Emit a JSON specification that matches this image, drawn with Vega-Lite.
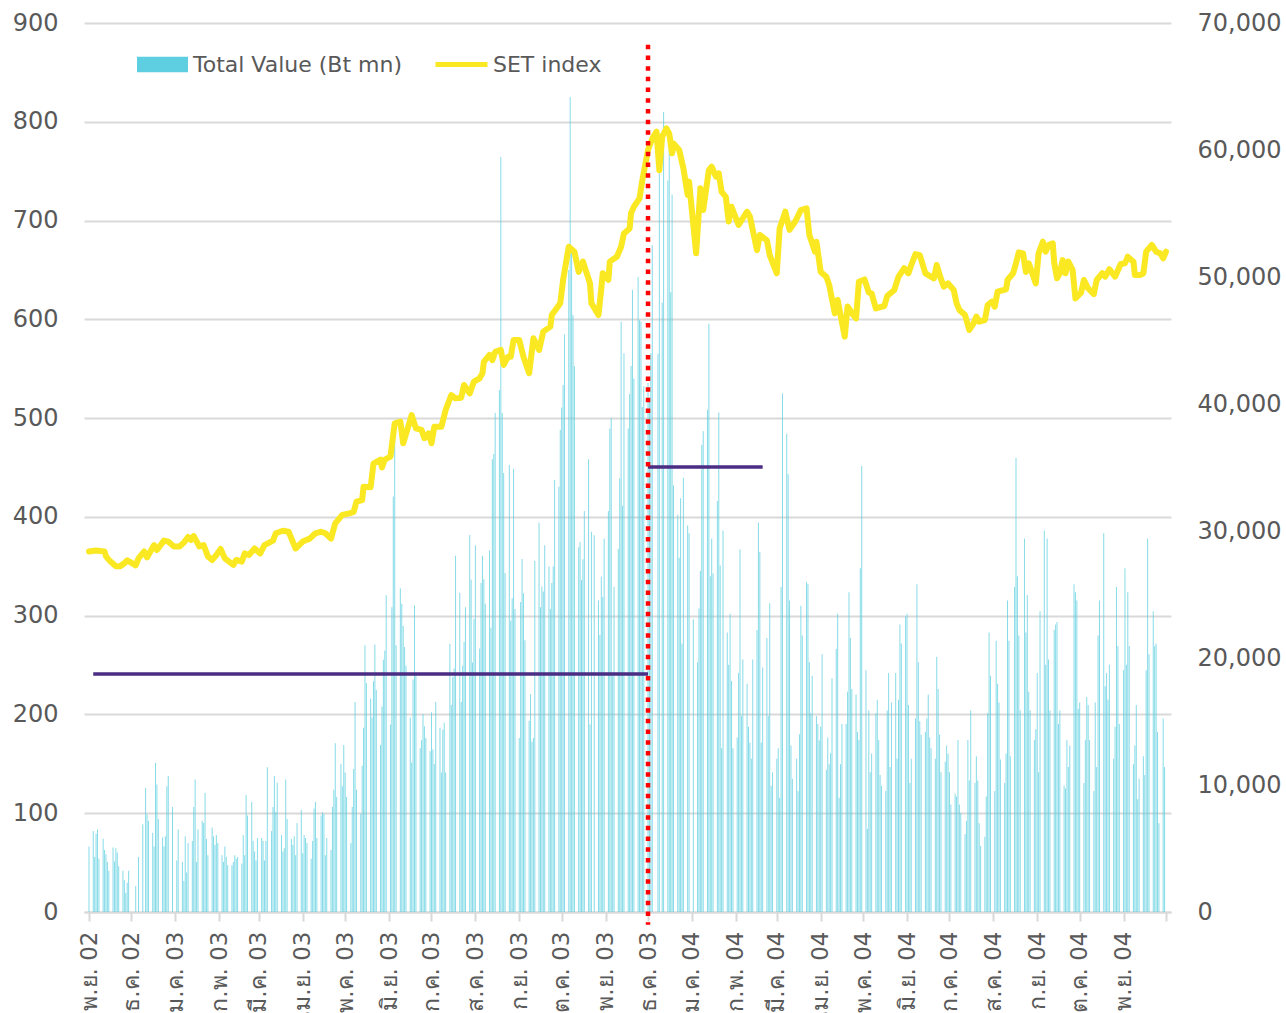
{
"$schema":"https://vega.github.io/schema/vega-lite/v6.json",
"width":1087,"height":889,
"autosize":{"type":"none"},
"padding":{"left":84,"top":23,"right":115,"bottom":101},
"background":"white",
"config":{"view":{"stroke":null},"font":"DejaVu Sans",
"axisX":{"tickCount":{"interval":"month","step":1},"labelAngle":-90,"labelExpr":"(utcyear(datum.value)==2004 && utcmonth(datum.value)==11) ? '' : ['ม.ค.','ก.พ.','มี.ค.','เม.ย.','พ.ค.','มิ.ย.','ก.ค.','ส.ค.','ก.ย.','ต.ค.','พ.ย.','ธ.ค.'][utcmonth(datum.value)] + ' ' + utcFormat(datum.value, '%y')","domainColor":"#D9D9D9","domainWidth":2,"tickColor":"#D9D9D9","tickWidth":2,"tickSize":9,"labelPadding":10,"labelFontSize":23,"labelColor":"#595959","grid":false,"title":null,"labelOverlap":false,"labelBound":false,"labelFlush":false}},
"datasets":{
"bars":[
{"d":"2002-11-01","v":5150},{"d":"2002-11-04","v":6380},{"d":"2002-11-05","v":4330},{"d":"2002-11-06","v":6160},{"d":"2002-11-07","v":6500},{"d":"2002-11-08","v":4200},{"d":"2002-11-11","v":5770},{"d":"2002-11-12","v":4880},{"d":"2002-11-13","v":4530},{"d":"2002-11-14","v":3940},{"d":"2002-11-15","v":3250},{"d":"2002-11-18","v":5070},{"d":"2002-11-19","v":3980},{"d":"2002-11-20","v":5020},{"d":"2002-11-21","v":4690},{"d":"2002-11-22","v":3600},{"d":"2002-11-25","v":3250},{"d":"2002-11-26","v":2500},{"d":"2002-11-27","v":1500},{"d":"2002-11-28","v":2300},{"d":"2002-11-29","v":3250},
{"d":"2002-12-04","v":2050},{"d":"2002-12-06","v":4330},{"d":"2002-12-09","v":6910},{"d":"2002-12-11","v":9760},{"d":"2002-12-12","v":7670},{"d":"2002-12-13","v":7180},{"d":"2002-12-16","v":6240},{"d":"2002-12-17","v":5150},{"d":"2002-12-18","v":11730},{"d":"2002-12-19","v":10030},{"d":"2002-12-20","v":7320},{"d":"2002-12-23","v":5880},{"d":"2002-12-24","v":5150},{"d":"2002-12-25","v":5960},{"d":"2002-12-26","v":9900},{"d":"2002-12-27","v":10710},{"d":"2002-12-30","v":8270},
{"d":"2003-01-02","v":4060},{"d":"2003-01-03","v":6500},{"d":"2003-01-06","v":3940},{"d":"2003-01-07","v":2440},{"d":"2003-01-08","v":5960},{"d":"2003-01-09","v":3120},{"d":"2003-01-10","v":5430},{"d":"2003-01-13","v":5590},{"d":"2003-01-14","v":8270},{"d":"2003-01-15","v":10440},{"d":"2003-01-16","v":3940},{"d":"2003-01-17","v":6500},{"d":"2003-01-20","v":7180},{"d":"2003-01-21","v":7000},{"d":"2003-01-22","v":9370},{"d":"2003-01-23","v":5750},{"d":"2003-01-24","v":4460},{"d":"2003-01-27","v":6650},{"d":"2003-01-28","v":5960},{"d":"2003-01-29","v":5270},{"d":"2003-01-30","v":6060},{"d":"2003-01-31","v":5430},
{"d":"2003-02-03","v":4460},{"d":"2003-02-04","v":3940},{"d":"2003-02-05","v":5150},{"d":"2003-02-06","v":4330},{"d":"2003-02-07","v":3690},{"d":"2003-02-10","v":3690},{"d":"2003-02-11","v":3940},{"d":"2003-02-12","v":4460},{"d":"2003-02-13","v":4200},{"d":"2003-02-14","v":4330},{"d":"2003-02-17","v":3810},{"d":"2003-02-18","v":6060},{"d":"2003-02-19","v":4460},{"d":"2003-02-20","v":9210},{"d":"2003-02-21","v":7590},{"d":"2003-02-24","v":8660},{"d":"2003-02-25","v":5590},{"d":"2003-02-26","v":4770},{"d":"2003-02-27","v":4060},{"d":"2003-02-28","v":5830},
{"d":"2003-03-03","v":5830},{"d":"2003-03-04","v":5590},{"d":"2003-03-05","v":4060},{"d":"2003-03-06","v":5590},{"d":"2003-03-07","v":11390},{"d":"2003-03-10","v":6380},{"d":"2003-03-11","v":8270},{"d":"2003-03-12","v":10710},{"d":"2003-03-13","v":7870},{"d":"2003-03-14","v":10170},{"d":"2003-03-17","v":6060},{"d":"2003-03-18","v":4770},{"d":"2003-03-19","v":5020},{"d":"2003-03-20","v":10440},{"d":"2003-03-21","v":7320},{"d":"2003-03-24","v":5750},{"d":"2003-03-25","v":5270},{"d":"2003-03-26","v":5960},{"d":"2003-03-27","v":4460},{"d":"2003-03-28","v":7000},{"d":"2003-03-31","v":8030},
{"d":"2003-04-01","v":4620},{"d":"2003-04-02","v":6060},{"d":"2003-04-03","v":5830},{"d":"2003-04-04","v":5430},{"d":"2003-04-07","v":4200},{"d":"2003-04-08","v":5590},{"d":"2003-04-09","v":8140},{"d":"2003-04-10","v":8660},{"d":"2003-04-11","v":5830},{"d":"2003-04-14","v":7590},{"d":"2003-04-15","v":7870},{"d":"2003-04-16","v":7720},{"d":"2003-04-17","v":4460},{"d":"2003-04-18","v":5830},{"d":"2003-04-21","v":4880},{"d":"2003-04-22","v":8270},{"d":"2003-04-23","v":9620},{"d":"2003-04-24","v":13280},{"d":"2003-04-25","v":9050},{"d":"2003-04-28","v":11650},{"d":"2003-04-29","v":9900},{"d":"2003-04-30","v":13150},
{"d":"2003-05-01","v":10980},{"d":"2003-05-02","v":9050},{"d":"2003-05-05","v":5430},{"d":"2003-05-06","v":8270},{"d":"2003-05-07","v":11260},{"d":"2003-05-08","v":16540},{"d":"2003-05-09","v":9620},{"d":"2003-05-12","v":7720},{"d":"2003-05-13","v":11520},{"d":"2003-05-14","v":14500},{"d":"2003-05-15","v":21000},{"d":"2003-05-16","v":18030},{"d":"2003-05-19","v":16810},{"d":"2003-05-20","v":15320},{"d":"2003-05-21","v":18170},{"d":"2003-05-22","v":21060},{"d":"2003-05-23","v":17490},{"d":"2003-05-26","v":13150},{"d":"2003-05-27","v":16190},{"d":"2003-05-28","v":19870},{"d":"2003-05-29","v":20600},{"d":"2003-05-30","v":24940},
{"d":"2003-06-02","v":14760},{"d":"2003-06-03","v":23990},{"d":"2003-06-04","v":32720},{"d":"2003-06-05","v":37500},{"d":"2003-06-06","v":21000},{"d":"2003-06-09","v":25490},{"d":"2003-06-10","v":24270},{"d":"2003-06-11","v":22520},{"d":"2003-06-12","v":20870},{"d":"2003-06-13","v":19380},{"d":"2003-06-16","v":15320},{"d":"2003-06-17","v":11780},{"d":"2003-06-18","v":18300},{"d":"2003-06-19","v":24130},{"d":"2003-06-20","v":18630},{"d":"2003-06-23","v":12900},{"d":"2003-06-24","v":13550},{"d":"2003-06-25","v":15590},{"d":"2003-06-26","v":14630},{"d":"2003-06-27","v":13700},{"d":"2003-06-30","v":12660},
{"d":"2003-07-01","v":15720},{"d":"2003-07-02","v":12790},{"d":"2003-07-03","v":11650},{"d":"2003-07-04","v":16540},{"d":"2003-07-07","v":14500},{"d":"2003-07-08","v":10980},{"d":"2003-07-09","v":14370},{"d":"2003-07-10","v":14900},{"d":"2003-07-11","v":10980},{"d":"2003-07-14","v":21130},{"d":"2003-07-15","v":16290},{"d":"2003-07-16","v":18510},{"d":"2003-07-17","v":19170},{"d":"2003-07-18","v":28060},{"d":"2003-07-21","v":25130},{"d":"2003-07-22","v":16540},{"d":"2003-07-23","v":19380},{"d":"2003-07-24","v":21260},{"d":"2003-07-25","v":23990},{"d":"2003-07-28","v":29680},{"d":"2003-07-29","v":26160},{"d":"2003-07-30","v":19640},{"d":"2003-07-31","v":23070},
{"d":"2003-08-01","v":28870},{"d":"2003-08-04","v":20740},{"d":"2003-08-05","v":25900},{"d":"2003-08-06","v":28060},{"d":"2003-08-07","v":26200},{"d":"2003-08-08","v":24270},{"d":"2003-08-11","v":28460},{"d":"2003-08-12","v":22390},{"d":"2003-08-13","v":35650},{"d":"2003-08-14","v":36060},{"d":"2003-08-15","v":39300},{"d":"2003-08-18","v":41100},{"d":"2003-08-19","v":59450},{"d":"2003-08-20","v":39300},{"d":"2003-08-21","v":34570},{"d":"2003-08-22","v":26700},{"d":"2003-08-25","v":35200},{"d":"2003-08-26","v":22930},{"d":"2003-08-27","v":24700},{"d":"2003-08-28","v":34900},{"d":"2003-08-29","v":23860},
{"d":"2003-09-01","v":13700},{"d":"2003-09-02","v":24400},{"d":"2003-09-03","v":27800},{"d":"2003-09-04","v":25100},{"d":"2003-09-05","v":21400},{"d":"2003-09-08","v":15060},{"d":"2003-09-09","v":17170},{"d":"2003-09-10","v":13410},{"d":"2003-09-11","v":13700},{"d":"2003-09-12","v":27650},{"d":"2003-09-15","v":30640},{"d":"2003-09-16","v":23990},{"d":"2003-09-17","v":25630},{"d":"2003-09-18","v":25230},{"d":"2003-09-19","v":28870},{"d":"2003-09-22","v":27200},{"d":"2003-09-23","v":23860},{"d":"2003-09-24","v":25900},{"d":"2003-09-25","v":27200},{"d":"2003-09-26","v":34020},{"d":"2003-09-29","v":33480},{"d":"2003-09-30","v":37960},
{"d":"2003-10-01","v":39720},{"d":"2003-10-02","v":41500},{"d":"2003-10-03","v":45500},{"d":"2003-10-06","v":50550},{"d":"2003-10-07","v":64170},{"d":"2003-10-08","v":52000},{"d":"2003-10-09","v":47000},{"d":"2003-10-10","v":43000},{"d":"2003-10-13","v":28730},{"d":"2003-10-14","v":29130},{"d":"2003-10-15","v":26150},{"d":"2003-10-16","v":27780},{"d":"2003-10-17","v":31570},{"d":"2003-10-20","v":35640},{"d":"2003-10-21","v":14770},{"d":"2003-10-22","v":29950},{"d":"2003-10-24","v":29670},{"d":"2003-10-27","v":24530},{"d":"2003-10-28","v":21820},{"d":"2003-10-29","v":26420},{"d":"2003-10-30","v":24800},{"d":"2003-10-31","v":29400},
{"d":"2003-11-03","v":31570},{"d":"2003-11-04","v":38080},{"d":"2003-11-05","v":38900},{"d":"2003-11-06","v":18830},{"d":"2003-11-07","v":25610},{"d":"2003-11-10","v":28590},{"d":"2003-11-11","v":34150},{"d":"2003-11-12","v":46480},{"d":"2003-11-13","v":31980},{"d":"2003-11-14","v":44000},{"d":"2003-11-17","v":38080},{"d":"2003-11-18","v":40790},{"d":"2003-11-19","v":43000},{"d":"2003-11-20","v":49000},{"d":"2003-11-21","v":42000},{"d":"2003-11-24","v":50000},{"d":"2003-11-25","v":46600},{"d":"2003-11-26","v":46500},{"d":"2003-11-27","v":39760},{"d":"2003-11-28","v":41400},
{"d":"2003-12-01","v":41650},{"d":"2003-12-02","v":40500},{"d":"2003-12-03","v":44000},{"d":"2003-12-04","v":52500},{"d":"2003-12-08","v":43950},{"d":"2003-12-09","v":58350},{"d":"2003-12-11","v":47970},{"d":"2003-12-12","v":63000},{"d":"2003-12-15","v":57600},{"d":"2003-12-16","v":60230},{"d":"2003-12-17","v":48800},{"d":"2003-12-18","v":56500},{"d":"2003-12-19","v":33580},{"d":"2003-12-22","v":31280},{"d":"2003-12-23","v":27900},{"d":"2003-12-24","v":32570},{"d":"2003-12-25","v":21130},{"d":"2003-12-26","v":34200},{"d":"2003-12-29","v":30430},{"d":"2003-12-30","v":29820},
{"d":"2004-01-02","v":23050},{"d":"2004-01-05","v":19670},{"d":"2004-01-06","v":23900},{"d":"2004-01-07","v":26860},{"d":"2004-01-08","v":36800},{"d":"2004-01-09","v":37860},{"d":"2004-01-12","v":39550},{"d":"2004-01-13","v":46320},{"d":"2004-01-14","v":26440},{"d":"2004-01-15","v":29400},{"d":"2004-01-16","v":26650},{"d":"2004-01-19","v":32360},{"d":"2004-01-20","v":39340},{"d":"2004-01-21","v":27280},{"d":"2004-01-22","v":12900},{"d":"2004-01-23","v":30030},{"d":"2004-01-26","v":22000},{"d":"2004-01-27","v":19460},{"d":"2004-01-28","v":23480},{"d":"2004-01-29","v":18190},{"d":"2004-01-30","v":12900},
{"d":"2004-02-02","v":13750},{"d":"2004-02-03","v":18820},{"d":"2004-02-04","v":28550},{"d":"2004-02-05","v":15440},{"d":"2004-02-06","v":19880},{"d":"2004-02-09","v":17980},{"d":"2004-02-10","v":14590},{"d":"2004-02-11","v":13320},{"d":"2004-02-12","v":12060},{"d":"2004-02-13","v":19880},{"d":"2004-02-16","v":22210},{"d":"2004-02-17","v":30670},{"d":"2004-02-18","v":28340},{"d":"2004-02-19","v":13320},{"d":"2004-02-20","v":19250},{"d":"2004-02-23","v":21570},{"d":"2004-02-24","v":15440},{"d":"2004-02-25","v":24320},{"d":"2004-02-26","v":9940},{"d":"2004-02-27","v":11000},
{"d":"2004-03-01","v":12060},{"d":"2004-03-02","v":12900},{"d":"2004-03-03","v":9000},{"d":"2004-03-04","v":25590},{"d":"2004-03-05","v":40820},{"d":"2004-03-08","v":37650},{"d":"2004-03-09","v":34470},{"d":"2004-03-10","v":24530},{"d":"2004-03-11","v":13110},{"d":"2004-03-12","v":10500},{"d":"2004-03-15","v":12060},{"d":"2004-03-16","v":9500},{"d":"2004-03-17","v":14000},{"d":"2004-03-18","v":24110},{"d":"2004-03-19","v":21780},{"d":"2004-03-22","v":26010},{"d":"2004-03-23","v":25800},{"d":"2004-03-24","v":19670},{"d":"2004-03-25","v":15650},{"d":"2004-03-26","v":18610},{"d":"2004-03-29","v":15440},{"d":"2004-03-30","v":14800},{"d":"2004-03-31","v":13500},
{"d":"2004-04-01","v":14590},{"d":"2004-04-02","v":20300},{"d":"2004-04-05","v":11210},{"d":"2004-04-06","v":13750},{"d":"2004-04-07","v":11630},{"d":"2004-04-08","v":12500},{"d":"2004-04-09","v":18400},{"d":"2004-04-12","v":20730},{"d":"2004-04-13","v":23480},{"d":"2004-04-14","v":9000},{"d":"2004-04-15","v":11630},{"d":"2004-04-16","v":14800},{"d":"2004-04-19","v":14800},{"d":"2004-04-20","v":17340},{"d":"2004-04-21","v":25170},{"d":"2004-04-22","v":21570},{"d":"2004-04-23","v":17550},{"d":"2004-04-26","v":17130},{"d":"2004-04-27","v":14170},{"d":"2004-04-28","v":13540},{"d":"2004-04-29","v":27070},{"d":"2004-04-30","v":35110},
{"d":"2004-05-03","v":19040},{"d":"2004-05-04","v":6560},{"d":"2004-05-05","v":15860},{"d":"2004-05-06","v":11000},{"d":"2004-05-07","v":12480},{"d":"2004-05-10","v":15650},{"d":"2004-05-11","v":16710},{"d":"2004-05-12","v":13540},{"d":"2004-05-13","v":10790},{"d":"2004-05-14","v":9940},{"d":"2004-05-17","v":9520},{"d":"2004-05-18","v":15860},{"d":"2004-05-19","v":18820},{"d":"2004-05-20","v":11420},{"d":"2004-05-21","v":16500},{"d":"2004-05-24","v":18820},{"d":"2004-05-25","v":12060},{"d":"2004-05-26","v":16710},{"d":"2004-05-27","v":22630},{"d":"2004-05-28","v":21150},{"d":"2004-05-31","v":23270},
{"d":"2004-06-01","v":23480},{"d":"2004-06-02","v":16290},{"d":"2004-06-03","v":10150},{"d":"2004-06-04","v":12060},{"d":"2004-06-07","v":15230},{"d":"2004-06-08","v":25800},{"d":"2004-06-09","v":19670},{"d":"2004-06-10","v":15020},{"d":"2004-06-11","v":13960},{"d":"2004-06-14","v":14170},{"d":"2004-06-15","v":15230},{"d":"2004-06-16","v":17130},{"d":"2004-06-17","v":13750},{"d":"2004-06-18","v":12900},{"d":"2004-06-21","v":12060},{"d":"2004-06-22","v":20090},{"d":"2004-06-23","v":17550},{"d":"2004-06-24","v":13960},{"d":"2004-06-25","v":11000},{"d":"2004-06-28","v":11840},{"d":"2004-06-29","v":13110},{"d":"2004-06-30","v":12480},
{"d":"2004-07-01","v":11000},{"d":"2004-07-02","v":8460},{"d":"2004-07-05","v":9310},{"d":"2004-07-06","v":9090},{"d":"2004-07-07","v":13540},{"d":"2004-07-08","v":8460},{"d":"2004-07-09","v":7800},{"d":"2004-07-12","v":6130},{"d":"2004-07-13","v":7190},{"d":"2004-07-14","v":13540},{"d":"2004-07-15","v":10360},{"d":"2004-07-16","v":15860},{"d":"2004-07-19","v":10150},{"d":"2004-07-20","v":12270},{"d":"2004-07-21","v":10360},{"d":"2004-07-22","v":6980},{"d":"2004-07-23","v":5200},{"d":"2004-07-26","v":5920},{"d":"2004-07-27","v":9090},{"d":"2004-07-28","v":15650},{"d":"2004-07-29","v":22000},{"d":"2004-07-30","v":18610},
{"d":"2004-08-02","v":9520},{"d":"2004-08-03","v":21360},{"d":"2004-08-04","v":17980},{"d":"2004-08-05","v":16500},{"d":"2004-08-06","v":12000},{"d":"2004-08-09","v":10150},{"d":"2004-08-10","v":12480},{"d":"2004-08-11","v":24530},{"d":"2004-08-12","v":21360},{"d":"2004-08-13","v":12270},{"d":"2004-08-16","v":25590},{"d":"2004-08-17","v":35740},{"d":"2004-08-18","v":26440},{"d":"2004-08-19","v":21780},{"d":"2004-08-20","v":15860},{"d":"2004-08-23","v":29400},{"d":"2004-08-24","v":22000},{"d":"2004-08-25","v":24960},{"d":"2004-08-26","v":17340},{"d":"2004-08-27","v":15860},{"d":"2004-08-30","v":13540},{"d":"2004-08-31","v":14380},
{"d":"2004-09-01","v":18820},{"d":"2004-09-02","v":11000},{"d":"2004-09-03","v":23690},{"d":"2004-09-06","v":30030},{"d":"2004-09-07","v":19460},{"d":"2004-09-08","v":29400},{"d":"2004-09-09","v":19880},{"d":"2004-09-10","v":15860},{"d":"2004-09-13","v":22210},{"d":"2004-09-14","v":22630},{"d":"2004-09-15","v":22840},{"d":"2004-09-16","v":14800},{"d":"2004-09-17","v":15860},{"d":"2004-09-20","v":9940},{"d":"2004-09-21","v":9730},{"d":"2004-09-22","v":13540},{"d":"2004-09-23","v":11420},{"d":"2004-09-24","v":13110},{"d":"2004-09-27","v":25800},{"d":"2004-09-28","v":25170},{"d":"2004-09-29","v":24530},{"d":"2004-09-30","v":16000},
{"d":"2004-10-01","v":16500},{"d":"2004-10-04","v":10150},{"d":"2004-10-05","v":13540},{"d":"2004-10-06","v":16920},{"d":"2004-10-07","v":16290},{"d":"2004-10-08","v":13540},{"d":"2004-10-11","v":9520},{"d":"2004-10-12","v":16500},{"d":"2004-10-13","v":11420},{"d":"2004-10-14","v":21780},{"d":"2004-10-15","v":24530},{"d":"2004-10-18","v":29820},{"d":"2004-10-19","v":17770},{"d":"2004-10-20","v":18820},{"d":"2004-10-21","v":16710},{"d":"2004-10-22","v":19460},{"d":"2004-10-25","v":12060},{"d":"2004-10-26","v":14590},{"d":"2004-10-27","v":25590},{"d":"2004-10-28","v":20940},{"d":"2004-10-29","v":14800},
{"d":"2004-11-01","v":19040},{"d":"2004-11-02","v":27070},{"d":"2004-11-03","v":19460},{"d":"2004-11-04","v":25170},{"d":"2004-11-05","v":20940},{"d":"2004-11-08","v":11630},{"d":"2004-11-09","v":13110},{"d":"2004-11-10","v":16290},{"d":"2004-11-11","v":8880},{"d":"2004-11-12","v":10500},{"d":"2004-11-15","v":12270},{"d":"2004-11-16","v":10790},{"d":"2004-11-17","v":19040},{"d":"2004-11-18","v":29400},{"d":"2004-11-19","v":20300},{"d":"2004-11-22","v":23690},{"d":"2004-11-23","v":20940},{"d":"2004-11-24","v":21150},{"d":"2004-11-25","v":14170},{"d":"2004-11-26","v":6980},{"d":"2004-11-29","v":15230},{"d":"2004-11-30","v":11420}
],
"set":[
{"d":"2002-11-01","s":365},{"d":"2002-11-06","s":366},{"d":"2002-11-12","s":365},{"d":"2002-11-13","s":360},{"d":"2002-11-16","s":355},{"d":"2002-11-20","s":350},{"d":"2002-11-23","s":350},{"d":"2002-11-26","s":353},{"d":"2002-11-28","s":356},
{"d":"2002-12-04","s":351},{"d":"2002-12-06","s":358},{"d":"2002-12-10","s":365},{"d":"2002-12-12","s":359},{"d":"2002-12-17","s":371.5},{"d":"2002-12-19","s":366.5},{"d":"2002-12-24","s":376},{"d":"2002-12-27","s":375},{"d":"2002-12-31","s":370},
{"d":"2003-01-04","s":370},{"d":"2003-01-07","s":374},{"d":"2003-01-10","s":379.6},{"d":"2003-01-12","s":376.6},{"d":"2003-01-14","s":380.6},{"d":"2003-01-18","s":370},{"d":"2003-01-21","s":371.5},{"d":"2003-01-24","s":360},{"d":"2003-01-27","s":356.4},{"d":"2003-01-30","s":361.4},
{"d":"2003-02-02","s":367.5},{"d":"2003-02-05","s":358},{"d":"2003-02-11","s":351.3},{"d":"2003-02-13","s":356.4},{"d":"2003-02-17","s":354.7},{"d":"2003-02-19","s":363},{"d":"2003-02-22","s":361.4},{"d":"2003-02-26","s":368},
{"d":"2003-03-02","s":363},{"d":"2003-03-05","s":371.5},{"d":"2003-03-11","s":376},{"d":"2003-03-13","s":383.4},{"d":"2003-03-18","s":386},{"d":"2003-03-22","s":385},{"d":"2003-03-27","s":368},
{"d":"2003-04-01","s":375},{"d":"2003-04-06","s":378},{"d":"2003-04-10","s":383.4},{"d":"2003-04-14","s":385},{"d":"2003-04-17","s":383.4},{"d":"2003-04-21","s":378},{"d":"2003-04-24","s":393.5},{"d":"2003-04-29","s":402},
{"d":"2003-05-04","s":403.6},{"d":"2003-05-07","s":405},{"d":"2003-05-09","s":415.4},{"d":"2003-05-13","s":417},{"d":"2003-05-14","s":430.6},{"d":"2003-05-19","s":430},{"d":"2003-05-21","s":454},{"d":"2003-05-26","s":458},{"d":"2003-05-27","s":450},{"d":"2003-05-29","s":458},
{"d":"2003-06-02","s":461},{"d":"2003-06-05","s":494.7},{"d":"2003-06-09","s":496.4},{"d":"2003-06-11","s":474.5},{"d":"2003-06-17","s":503},{"d":"2003-06-20","s":489.7},{"d":"2003-06-24","s":488},{"d":"2003-06-26","s":479.6},{"d":"2003-06-29","s":484.6},
{"d":"2003-07-01","s":474.5},{"d":"2003-07-03","s":491.3},{"d":"2003-07-08","s":491.3},{"d":"2003-07-11","s":508.2},{"d":"2003-07-15","s":523.4},{"d":"2003-07-18","s":520},{"d":"2003-07-22","s":520.7},{"d":"2003-07-24","s":533.5},{"d":"2003-07-28","s":525},{"d":"2003-07-31","s":537},
{"d":"2003-08-04","s":540.3},{"d":"2003-08-06","s":545.4},{"d":"2003-08-07","s":557},{"d":"2003-08-11","s":564},{"d":"2003-08-13","s":558.8},{"d":"2003-08-15","s":567},{"d":"2003-08-19","s":569},{"d":"2003-08-21","s":553.8},{"d":"2003-08-24","s":562},{"d":"2003-08-26","s":562},{"d":"2003-08-28","s":579},
{"d":"2003-09-01","s":579},{"d":"2003-09-04","s":562},{"d":"2003-09-08","s":545.4},{"d":"2003-09-11","s":580.8},{"d":"2003-09-15","s":569},{"d":"2003-09-18","s":587.5},{"d":"2003-09-23","s":592.6},{"d":"2003-09-24","s":604.4},{"d":"2003-09-30","s":616.3},
{"d":"2003-10-02","s":640},{"d":"2003-10-06","s":673.5},{"d":"2003-10-10","s":668.5},{"d":"2003-10-13","s":648},{"d":"2003-10-16","s":658.4},{"d":"2003-10-21","s":636.5},{"d":"2003-10-22","s":616.3},{"d":"2003-10-27","s":604.4},{"d":"2003-10-29","s":631.4},{"d":"2003-10-30","s":646.6},
{"d":"2003-11-03","s":640},{"d":"2003-11-04","s":658.4},{"d":"2003-11-09","s":663.4},{"d":"2003-11-12","s":673.5},{"d":"2003-11-14","s":687},{"d":"2003-11-18","s":692},{"d":"2003-11-19","s":707.5},{"d":"2003-11-21","s":714},{"d":"2003-11-25","s":722.5},{"d":"2003-11-27","s":741},
{"d":"2003-12-01","s":771.5},{"d":"2003-12-04","s":783},{"d":"2003-12-07","s":790},{"d":"2003-12-09","s":751},{"d":"2003-12-11","s":785},{"d":"2003-12-14","s":793.4},{"d":"2003-12-16","s":788},{"d":"2003-12-18","s":768},{"d":"2003-12-19","s":778},{"d":"2003-12-23","s":771.5},{"d":"2003-12-26","s":753},{"d":"2003-12-29","s":726},{"d":"2003-12-30","s":739.4},
{"d":"2004-01-04","s":666.8},{"d":"2004-01-07","s":732.6},{"d":"2004-01-09","s":710.6},{"d":"2004-01-13","s":751},{"d":"2004-01-15","s":754.5},{"d":"2004-01-18","s":744.4},{"d":"2004-01-20","s":747.8},{"d":"2004-01-22","s":729},{"d":"2004-01-25","s":724},{"d":"2004-01-27","s":699},{"d":"2004-01-29","s":714},
{"d":"2004-02-03","s":695.5},{"d":"2004-02-09","s":709},{"d":"2004-02-11","s":704},{"d":"2004-02-16","s":670},{"d":"2004-02-18","s":685.4},{"d":"2004-02-23","s":680},{"d":"2004-02-25","s":665},
{"d":"2004-03-01","s":646.6},{"d":"2004-03-03","s":692},{"d":"2004-03-07","s":709},{"d":"2004-03-10","s":690.5},{"d":"2004-03-14","s":699},{"d":"2004-03-18","s":710.6},{"d":"2004-03-22","s":712.3},{"d":"2004-03-24","s":685.4},{"d":"2004-03-28","s":668.5},{"d":"2004-03-29","s":678.6},
{"d":"2004-04-01","s":648},{"d":"2004-04-05","s":643},{"d":"2004-04-07","s":634.8},{"d":"2004-04-11","s":606},{"d":"2004-04-13","s":619.6},{"d":"2004-04-18","s":582.5},{"d":"2004-04-20","s":613},{"d":"2004-04-24","s":604.4},{"d":"2004-04-26","s":601},{"d":"2004-04-28","s":638},
{"d":"2004-05-02","s":640.4},{"d":"2004-05-05","s":627},{"d":"2004-05-07","s":626.3},{"d":"2004-05-10","s":611},{"d":"2004-05-16","s":613.5},{"d":"2004-05-18","s":623.6},{"d":"2004-05-23","s":629.7},{"d":"2004-05-26","s":643.2},{"d":"2004-05-30","s":651.7},
{"d":"2004-06-02","s":646.6},{"d":"2004-06-04","s":655},{"d":"2004-06-07","s":666},{"d":"2004-06-10","s":665},{"d":"2004-06-14","s":646.6},{"d":"2004-06-20","s":641.5},{"d":"2004-06-22","s":655},{"d":"2004-06-24","s":645},{"d":"2004-06-27","s":633},{"d":"2004-06-30","s":636.4},
{"d":"2004-07-04","s":629.7},{"d":"2004-07-06","s":616.3},{"d":"2004-07-08","s":609.5},{"d":"2004-07-12","s":604.4},{"d":"2004-07-15","s":589.2},{"d":"2004-07-18","s":596},{"d":"2004-07-20","s":602.8},{"d":"2004-07-22","s":597.6},{"d":"2004-07-26","s":599.3},{"d":"2004-07-28","s":614.5},{"d":"2004-07-31","s":617.9},
{"d":"2004-08-02","s":612.8},{"d":"2004-08-04","s":628},{"d":"2004-08-10","s":630.4},{"d":"2004-08-11","s":639.8},{"d":"2004-08-15","s":646.6},{"d":"2004-08-17","s":656.7},{"d":"2004-08-19","s":667.8},{"d":"2004-08-22","s":666.8},{"d":"2004-08-24","s":648},{"d":"2004-08-26","s":656.7},{"d":"2004-08-31","s":636.4},
{"d":"2004-09-02","s":666.8},{"d":"2004-09-05","s":678.6},{"d":"2004-09-07","s":668.5},{"d":"2004-09-09","s":675.3},{"d":"2004-09-12","s":677},{"d":"2004-09-13","s":657.4},{"d":"2004-09-15","s":641.5},{"d":"2004-09-17","s":646.6},{"d":"2004-09-19","s":660},{"d":"2004-09-21","s":646.6},{"d":"2004-09-23","s":658.4},{"d":"2004-09-26","s":650},{"d":"2004-09-28","s":621.2},
{"d":"2004-10-02","s":627},{"d":"2004-10-04","s":639.8},{"d":"2004-10-07","s":631.4},{"d":"2004-10-11","s":625.6},{"d":"2004-10-13","s":639.8},{"d":"2004-10-17","s":646.6},{"d":"2004-10-19","s":643.2},{"d":"2004-10-22","s":650.7},{"d":"2004-10-26","s":643.2},{"d":"2004-10-30","s":656},
{"d":"2004-11-02","s":656.7},{"d":"2004-11-04","s":663.4},{"d":"2004-11-08","s":658.4},{"d":"2004-11-09","s":645},{"d":"2004-11-13","s":645},{"d":"2004-11-15","s":646.6},{"d":"2004-11-17","s":668.5},{"d":"2004-11-21","s":675.3},{"d":"2004-11-24","s":668.5},{"d":"2004-11-27","s":666.8},{"d":"2004-11-29","s":661.7},{"d":"2004-12-01","s":668.5}
],
"avg":[{"a":"2002-11-04","b":"2003-12-01","v":18740},{"a":"2003-12-01","b":"2004-02-20","v":35040}],
"marker":[{"d":"2003-12-01","top":878,"bottom":-13}]
},
"layer":[
{"layer":[
{"data":{"name":"bars"},"mark":{"type":"bar","width":1,"opacity":0.75},
"encoding":{
"x":{"field":"d","type":"temporal","scale":{"type":"utc","domain":[{"year":2002,"month":11,"date":1,"utc":true},{"year":2004,"month":12,"date":1,"utc":true}],"nice":false}},
"y":{"field":"v","type":"quantitative","scale":{"domain":[0,70000],"nice":false},"axis":{"orient":"right","values":[0,10000,20000,30000,40000,50000,60000,70000],"labelExpr":"format(datum.value, ',')","grid":false,"domain":false,"ticks":false,"labelFontSize":24,"labelColor":"#595959","labelPadding":26,"title":null}},
"color":{"datum":"Total Value (Bt mn)","scale":{"range":["#5ECFE0"]},"legend":{"orient":"none","legendX":53,"legendY":16,"direction":"horizontal","title":null,"symbolType":"M-1,-0.3H1V0.3H-1Z","symbolSize":2601,"symbolStrokeWidth":0,"symbolOpacity":1,"labelFontSize":22,"labelLimit":500,"labelColor":"#595959","labelOffset":5,"padding":0}}
}},
{"data":{"name":"avg"},"mark":{"type":"rule","color":"#4B2D83","strokeWidth":3.5},
"encoding":{"x":{"field":"a","type":"temporal"},"x2":{"field":"b"},"y":{"field":"v","type":"quantitative"}}}
]},
{"layer":[
{"data":{"name":"set"},"mark":{"type":"line","strokeWidth":6,"strokeJoin":"round","strokeCap":"round"},
"encoding":{
"x":{"field":"d","type":"temporal"},
"y":{"field":"s","type":"quantitative","scale":{"domain":[0,900],"nice":false},"axis":{"orient":"left","values":[0,100,200,300,400,500,600,700,800,900],"grid":true,"gridColor":"#D9D9D9","gridWidth":2,"domain":false,"ticks":false,"labelFontSize":24,"labelColor":"#595959","labelPadding":26,"title":null}},
"stroke":{"datum":"SET index","scale":{"range":["#FAE823"]},"legend":{"orient":"none","legendX":349,"legendY":13,"direction":"horizontal","title":null,"symbolType":"stroke","symbolSize":2704,"symbolStrokeWidth":5,"labelFontSize":22,"labelLimit":500,"labelColor":"#595959","labelOffset":3,"padding":0}}
}},
{"data":{"name":"marker"},"mark":{"type":"rule","color":"#FF0000","strokeWidth":4.5,"strokeDash":[4.5,6.2]},
"encoding":{"x":{"field":"d","type":"temporal"},"y":{"field":"top","type":"quantitative"},"y2":{"field":"bottom"}}}
]}
],
"resolve":{"scale":{"y":"independent"}}
}
